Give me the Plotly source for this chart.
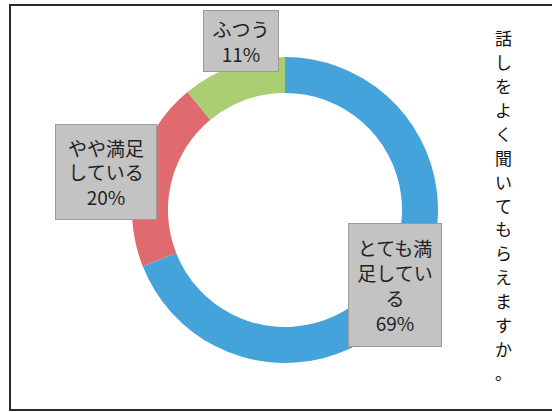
import plotly.graph_objects as go

# Survey result: 話しをよく聞いてもらえますか。
categories = ["とても満足している", "やや満足している", "ふつう"]
values = [69, 20, 11]
box_labels = ["とても満<br>足してい<br>る", "やや満足<br>している", "ふつう"]
colors = ["#45a3dc", "#e06b6e", "#a9cf72"]
title_text = "話しをよく聞いてもらえますか。"

W, H = 552, 412
FONT = "Noto Sans CJK JP"

fig = go.Figure()
fig.add_trace(go.Pie(
    labels=categories,
    values=values,
    hole=0.765,
    sort=False,
    direction="clockwise",
    rotation=0,
    marker=dict(colors=colors, line=dict(width=0)),
    textinfo="none",
    hoverinfo="label+percent",
    showlegend=False,
    domain=dict(x=[132 / W, 438 / W], y=[(H - 363) / H, (H - 57) / H]),
))

total = sum(values)
# label boxes: (center x px, center y px, width, height)
boxes = [(395, 285, 92, 122), (106, 172, 100, 94), (241, 41, 74, 60)]
for (cx, cy, bw, bh), lab, v in zip(boxes, box_labels, values):
    pct = round(v / total * 100)
    fig.add_annotation(
        x=cx / W, y=1 - cy / H, xref="paper", yref="paper",
        xanchor="center", yanchor="middle",
        text=f"{lab}<br>{pct}%",
        showarrow=False,
        width=bw, height=bh, align="center", valign="middle",
        bgcolor="#c3c3c3", bordercolor="#9a9a9a", borderwidth=1, borderpad=0,
        font=dict(family=FONT, size=19, color="#222222"),
    )

# vertical title, one character per slot in a column
top_y, bottom_y = 38, 372
step = (bottom_y - top_y) / (len(title_text) - 1)
for i, ch in enumerate(title_text):
    fig.add_annotation(
        x=503 / W, y=1 - (top_y + i * step) / H, xref="paper", yref="paper",
        xanchor="center", yanchor="middle",
        text=ch, showarrow=False, borderpad=0, borderwidth=0,
        font=dict(family=FONT, size=17, color="#111111"),
    )

# chart frame
fig.add_shape(type="rect", xref="paper", yref="paper",
              x0=10 / W, x1=1.05, y0=2 / H, y1=1 - 5 / H,
              line=dict(color="#2a2a2a", width=2), fillcolor="rgba(0,0,0,0)")

fig.update_layout(
    width=W, height=H,
    margin=dict(l=0, r=0, t=0, b=0),
    paper_bgcolor="white", plot_bgcolor="white",
    font=dict(family=FONT),
)

fig.write_html("out.html")
